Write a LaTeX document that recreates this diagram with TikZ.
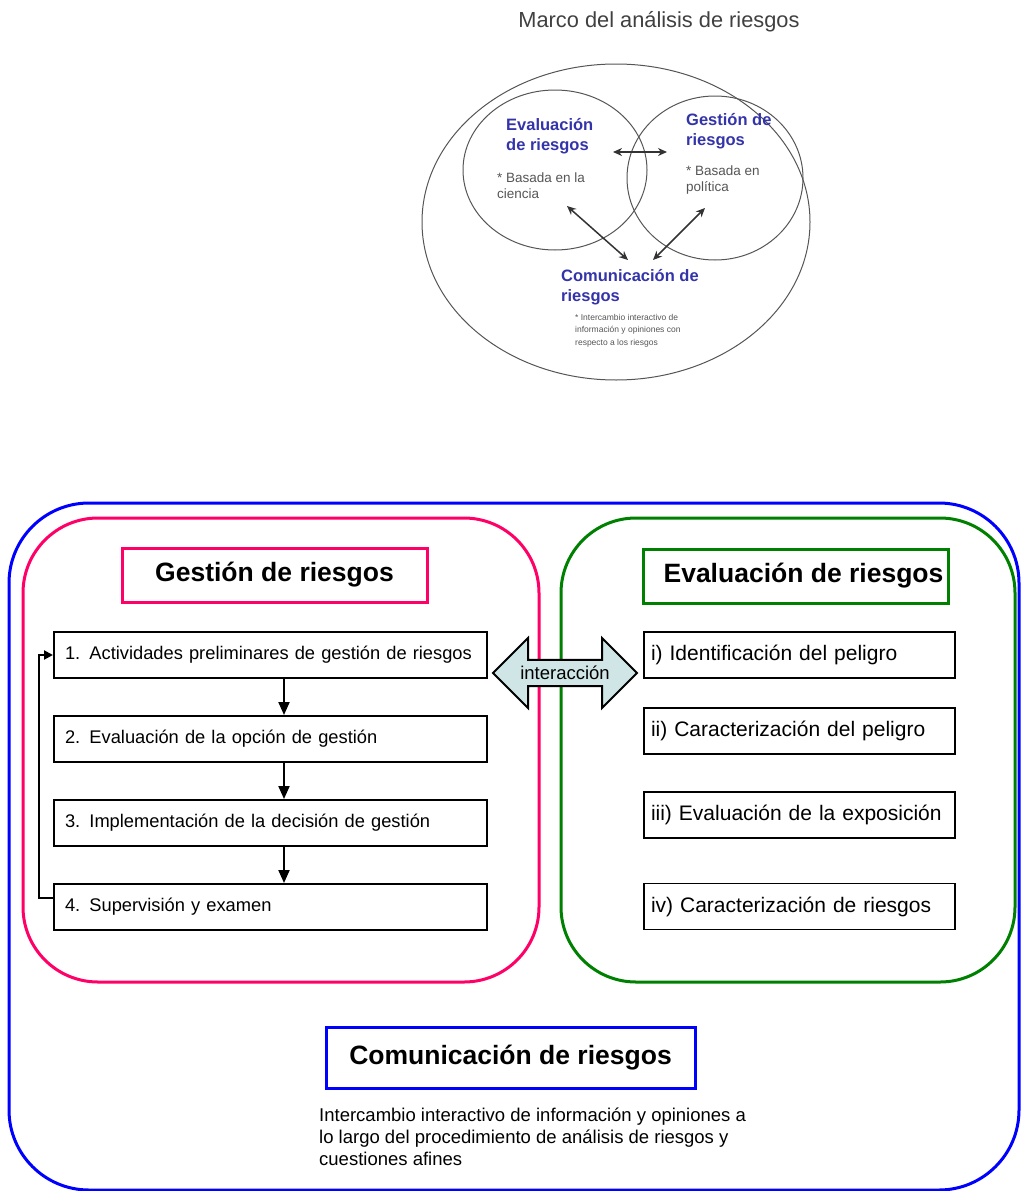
\documentclass[tikz,border=0pt]{standalone}
\usepackage{fontspec}
\setmainfont{Liberation Sans}
\usetikzlibrary{arrows.meta, shapes.arrows}

\definecolor{riskpink}{RGB}{255,0,102}
\definecolor{riskgreen}{RGB}{0,128,0}
\definecolor{riskblue}{RGB}{0,0,255}
\definecolor{venntext}{RGB}{51,51,170}
\definecolor{venngray}{RGB}{85,85,85}
\definecolor{arrowfill}{RGB}{208,230,230}

\begin{document}
\begin{tikzpicture}[x=1pt, y=-1pt,
    venn/.style={draw=venngray, line width=1pt},
    vennhead/.style={anchor=north west, align=left, inner sep=0pt, text=venntext, font=\fontsize{16.5}{20}\selectfont\bfseries},
    vennnote/.style={anchor=north west, align=left, inner sep=0pt, text=venngray, font=\fontsize{13.5}{16}\selectfont},
    vennsmall/.style={anchor=north west, align=left, inner sep=0pt, text=venngray, font=\fontsize{8.5}{12.5}\selectfont},
    vennarrow/.style={{Stealth[length=9pt,width=8pt]}-{Stealth[length=9pt,width=8pt]}, line width=1.5pt, draw=black!80},
    frame/.style={line width=3pt, rounded corners=75pt},
    titlebox/.style={draw, line width=3pt, minimum width=305pt, font=\fontsize{26.5}{30}\selectfont\bfseries},
    stepbox/.style={draw, line width=2pt, minimum height=46pt, text width=411pt, inner xsep=11pt, align=left, font=\fontsize{18.3}{21}\selectfont},
    phasebox/.style={draw, line width=1.5pt, minimum height=46pt, text width=297pt, inner xsep=7pt, align=left, font=\fontsize{21}{24}\selectfont},
    flow/.style={line width=2pt, -{Triangle[length=13pt,width=11pt]}},
    interarrow/.style={double arrow, draw, line width=2pt, fill=arrowfill, minimum height=144pt, minimum width=70pt, double arrow head extend=16.5pt, inner sep=2pt, font=\fontsize{18.5}{21}\selectfont}
]
  \useasboundingbox (0,0) rectangle (1021,1191);
  \clip (0,0) rectangle (1021,1191);

  % marco del analisis de riesgos
  \node[text=black!75, font=\fontsize{21.8}{25}\selectfont] (title) at (659,22) {Marco del análisis de riesgos};
  \draw[venn] (616,222) ellipse [x radius=194, y radius=158];
  \draw[venn] (555,170) ellipse [x radius=92, y radius=80];
  \draw[venn] (715,178) ellipse [x radius=88, y radius=82];

  \node[vennhead] (ev) at (506,118) {Evaluación\\de riesgos};
  \node[vennhead] (ge) at (686,113) {Gestión de\\riesgos};
  \node[vennnote] (evn) at (497,173) {* Basada en la\\ciencia};
  \node[vennnote] (gen) at (686,166) {* Basada en\\política};
  \node[vennhead] (co) at (561,269) {Comunicación de\\riesgos};
  \node[vennsmall] (con) at (575,314) {* Intercambio interactivo de\\información y opiniones con\\respecto a los riesgos};

  \coordinate (evR) at (613,152);
  \coordinate (geL) at (667,152);
  \coordinate (evD) at (567,206);
  \coordinate (geD) at (705,208);
  \coordinate (coL) at (628,260);
  \coordinate (coR) at (653,260);
  \draw[vennarrow] (evR) -- (geL);
  \draw[vennarrow] (evD) -- (coL);
  \draw[vennarrow] (geD) -- (coR);

  % marcos
  \draw[frame, draw=riskblue, rounded corners=80pt] (9,503) rectangle (1019,1190);
  \draw[frame, draw=riskpink] (23,518) rectangle (539,982);
  \draw[frame, draw=riskgreen] (561,518) rectangle (1015,982);

  % gestion de riesgos
  \node[titlebox, draw=riskpink, minimum height=54pt] (gt) at (274.5,575) {Gestión de riesgos};
  \node[stepbox] (s1) at (270.5,655) {1. Actividades preliminares de gestión de riesgos};
  \node[stepbox] (s2) at (270.5,739) {2. Evaluación de la opción de gestión};
  \node[stepbox] (s3) at (270.5,823) {3. Implementación de la decisión de gestión};
  \node[stepbox] (s4) at (270.5,907) {4. Supervisión y examen};

  \draw[flow] ([xshift=13.5pt]s1.south) -- ([xshift=13.5pt]s2.north);
  \draw[flow] ([xshift=13.5pt]s2.south) -- ([xshift=13.5pt]s3.north);
  \draw[flow] ([xshift=13.5pt]s3.south) -- ([xshift=13.5pt]s4.north);
  \draw[line width=2pt, -{Triangle[length=9pt,width=9pt]}] ([yshift=9pt]s4.west) -- ++(-14,0) |- (s1.west);

  % evaluacion de riesgos
  \node[titlebox, draw=riskgreen, minimum height=54pt] (et) at (795.5,576) {\hspace{16pt}Evaluación de riesgos};
  \node[phasebox] (p1) at (799.5,655) {i) Identificación del peligro};
  \node[phasebox] (p2) at (799.5,731) {ii) Caracterización del peligro};
  \node[phasebox] (p3) at (799.5,815) {iii) Evaluación de la exposición};
  \node[phasebox] (p4) at (799.5,906.5) {iv) Caracterización de riesgos};

  \node[interarrow] (ia) at (565,673) {interacción};

  % comunicacion de riesgos
  \node[titlebox, draw=riskblue, minimum width=369pt, minimum height=61pt] (ct) at (510.5,1057.5) {Comunicación de riesgos};
  \node[anchor=north west, align=left, inner sep=0pt, font=\fontsize{18.5}{22}\selectfont] (cd) at (319,1108)
    {Intercambio interactivo de información y opiniones a\\lo largo del procedimiento de análisis de riesgos y\\cuestiones afines};
\end{tikzpicture}
\end{document}
